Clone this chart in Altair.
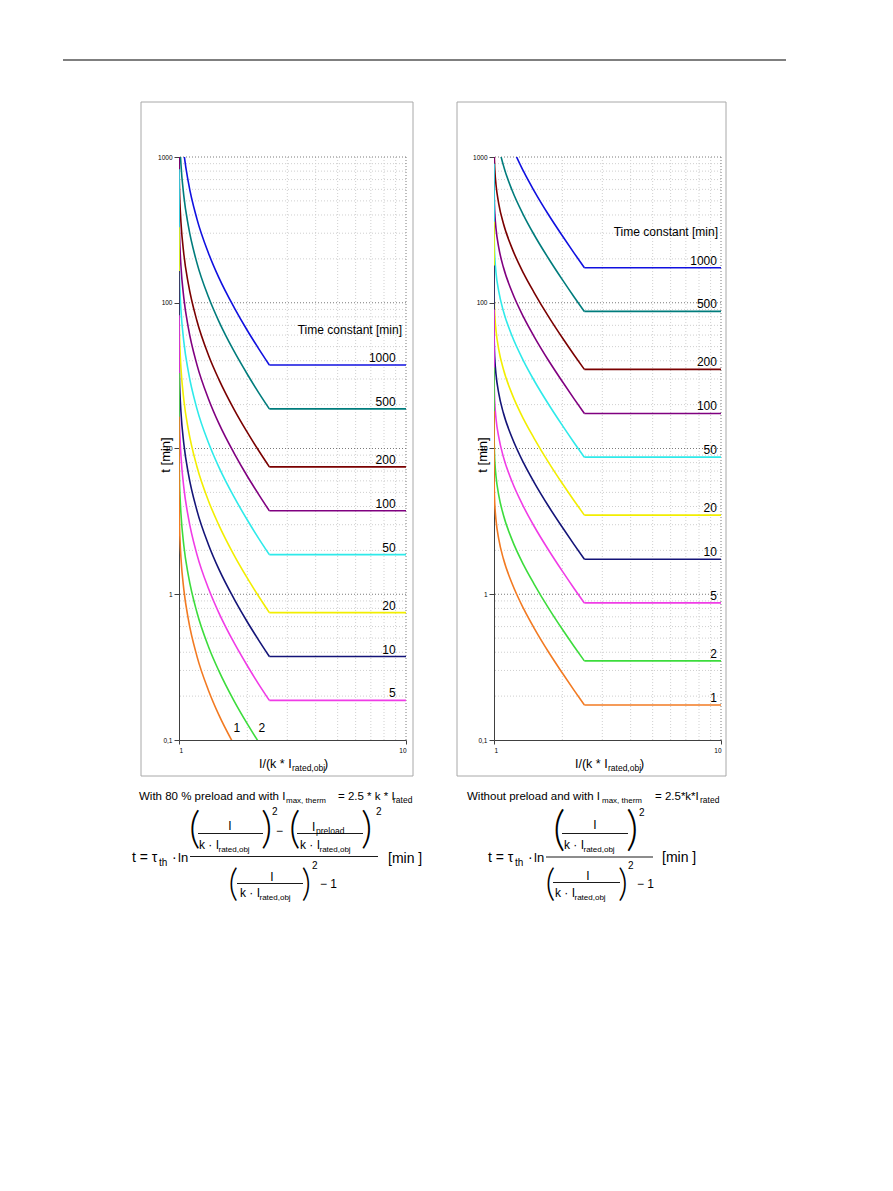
import altair as alt
import pandas as pd

FONT = "Liberation Sans"
PAREN_FONT = "Lato"

# ---------------- data ----------------
TAUS = [1, 2, 5, 10, 20, 50, 100, 200, 500, 1000]
TAU_COLORS = ["#F27A22", "#3CDC3C", "#F03CE6", "#141478", "#F2EE00",
              "#2EEAEA", "#800080", "#7A0000", "#007C7C", "#1010E0"]

X_CURVE = [1.001, 1.005, 1.01, 1.02, 1.05, 1.1, 1.2, 1.35, 1.5, 1.75, 2.0, 2.25, 2.5]
X_KNEE = 2.5
X_END = 10.0

# left panel: with 80 % preload
left_tau1 = [4.61, 3.04, 2.39, 1.78, 1.08, 0.669, 0.375, 0.218, 0.148, 0.0926, 0.0645, 0.0481, 0.0374]
left_tau2 = [9.23, 6.08, 4.79, 3.57, 2.16, 1.34, 0.749, 0.435, 0.297, 0.185, 0.129, 0.0961, 0.0748]
left_tau5 = [23.1, 15.2, 12.0, 8.92, 5.41, 3.35, 1.87, 1.09, 0.742, 0.463, 0.323, 0.240, 0.187]
left_tau10 = [46.1, 30.4, 23.9, 17.8, 10.8, 6.69, 3.75, 2.18, 1.48, 0.926, 0.645, 0.481, 0.374]
left_tau20 = [92.3, 60.8, 47.9, 35.7, 21.6, 13.4, 7.49, 4.35, 2.97, 1.85, 1.29, 0.961, 0.748]
left_tau50 = [231, 152, 120, 89.2, 54.1, 33.5, 18.7, 10.9, 7.42, 4.63, 3.23, 2.40, 1.87]
left_tau100 = [461, 304, 239, 178, 108, 66.9, 37.5, 21.8, 14.8, 9.26, 6.45, 4.81, 3.74]
left_tau200 = [923, 608, 479, 357, 216, 134, 74.9, 43.5, 29.7, 18.5, 12.9, 9.61, 7.48]
left_tau500 = [2307, 1521, 1197, 892, 541, 335, 187, 109, 74.2, 46.3, 32.3, 24.0, 18.7]
left_tau1000 = [4615, 3042, 2393, 1783, 1082, 669, 375, 218, 148, 92.6, 64.5, 48.1, 37.4]
# top of each curve's rise along the left axis (x = 1)
left_axis_start = [16.5, 33, 82, 165, 330, 825, 1650, 3300, 8250, 16500]

# right panel: without preload
right_tau1 = [6.22, 4.61, 3.93, 3.25, 2.38, 1.75, 1.19, 0.796, 0.588, 0.395, 0.288, 0.220, 0.174]
right_tau2 = [12.4, 9.23, 7.85, 6.50, 4.75, 3.50, 2.37, 1.59, 1.18, 0.791, 0.575, 0.440, 0.349]
right_tau5 = [31.1, 23.1, 19.6, 16.2, 11.9, 8.76, 5.93, 3.98, 2.94, 1.98, 1.44, 1.10, 0.872]
right_tau10 = [62.2, 46.1, 39.3, 32.5, 23.8, 17.5, 11.9, 7.96, 5.88, 3.95, 2.88, 2.20, 1.74]
right_tau20 = [124, 92.3, 78.5, 65.0, 47.5, 35.0, 23.7, 15.9, 11.8, 7.91, 5.75, 4.40, 3.49]
right_tau50 = [311, 231, 196, 162, 119, 87.6, 59.3, 39.8, 29.4, 19.8, 14.4, 11.0, 8.72]
right_tau100 = [622, 461, 393, 325, 238, 175, 119, 79.6, 58.8, 39.5, 28.8, 22.0, 17.4]
right_tau200 = [1243, 923, 785, 650, 475, 350, 237, 159, 118, 79.1, 57.5, 44.0, 34.9]
right_tau500 = [3108, 2306, 1964, 1624, 1188, 876, 593, 398, 294, 198, 144, 110, 87.2]
right_tau1000 = [6216, 4613, 3927, 3249, 2376, 1751, 1186, 796, 588, 395, 288, 220, 174]
right_axis_start = [18, 36, 90, 180, 360, 900, 1800, 3600, 9000, 18000]

LEFT_CURVES = [left_tau1, left_tau2, left_tau5, left_tau10, left_tau20,
               left_tau50, left_tau100, left_tau200, left_tau500, left_tau1000]
RIGHT_CURVES = [right_tau1, right_tau2, right_tau5, right_tau10, right_tau20,
                right_tau50, right_tau100, right_tau200, right_tau500, right_tau1000]

X_MINOR = [2, 3, 4, 5, 6, 7, 8, 9]
X_MAJOR = [10]
Y_MINOR = [0.2, 0.3, 0.4, 0.5, 0.6, 0.7, 0.8, 0.9, 2, 3, 4, 5, 6, 7, 8, 9,
           20, 30, 40, 50, 60, 70, 80, 90, 200, 300, 400, 500, 600, 700, 800, 900]
Y_MAJOR = [1, 10, 100, 1000]
Y_TICKS = [0.1, 1, 10, 100, 1000]
X_TICKS = [1, 10]

# ---------------- layout ----------------
PW, PH = 227, 583
LEFT_OX, TOP_OY = 179, 157
SPACING = 88
RIGHT_OX = LEFT_OX + PW + SPACING

XS = alt.Scale(type="log", domain=[1, 10])
YS = alt.Scale(type="log", domain=[0.1, 1000])
XAX = alt.Axis(values=X_TICKS, title="", grid=False, labelFontSize=6.5, labelFont=FONT,
               labelColor="#000000", domainColor="#404040", tickColor="#404040",
               tickSize=4, labelPadding=3, labelExpr="format(datum.value, 'd')")
YAX = alt.Axis(values=Y_TICKS, title="", grid=False, labelFontSize=6.5, labelFont=FONT,
               labelColor="#000000", domainColor="#404040", tickColor="#404040",
               tickSize=5, labelPadding=2,
               labelExpr="datum.value < 0.5 ? '0,1' : format(datum.value, 'd')")


def build_df(curves, starts):
    rows = []
    for tau, vals, s in zip(TAUS, curves, starts):
        rows.append(dict(tau=tau, seg="c", x=1.0, y=s, o=0))
        for i, (xv, yv) in enumerate(zip(X_CURVE, vals)):
            rows.append(dict(tau=tau, seg="c", x=xv, y=yv, o=i + 1))
        rows.append(dict(tau=tau, seg="f", x=X_KNEE, y=vals[-1], o=0))
        rows.append(dict(tau=tau, seg="f", x=X_END, y=vals[-1], o=1))
    return pd.DataFrame(rows)


def txt(s, px, py, ox, size, align="left", baseline="alphabetic", angle=0,
        font=FONT, weight=400):
    return alt.Chart(pd.DataFrame({"s": [s]})).mark_text(
        align=align, baseline=baseline, fontSize=size, font=font, angle=angle,
        fontWeight=weight, color="#000000"
    ).encode(x=alt.value(px - ox), y=alt.value(py - TOP_OY), text="s:N")


def paren(s, px, py, ox, size):
    return txt(s, px, py, ox, size, font=PAREN_FONT, weight=300)


def hline(x1, x2, y, ox, color="#000000", w=0.9):
    return alt.Chart(pd.DataFrame({"a": [0]})).mark_rule(color=color, strokeWidth=w).encode(
        x=alt.value(x1 - ox), x2=alt.value(x2 - ox), y=alt.value(y - TOP_OY))


def frame(x1, y1, x2, y2, ox):
    return alt.Chart(pd.DataFrame({"a": [0]})).mark_rect(
        fillOpacity=0, stroke="#A8A8A8", strokeWidth=1
    ).encode(x=alt.value(x1 - ox), x2=alt.value(x2 - ox),
             y=alt.value(y1 - TOP_OY), y2=alt.value(y2 - TOP_OY))


def grid_layers():
    gx_minor = alt.Chart(pd.DataFrame({"v": X_MINOR})).mark_rule(
        color="#CFCFCF", strokeWidth=1, strokeDash=[1, 2]).encode(
        x=alt.X("v:Q", scale=XS, axis=XAX))
    gy_minor = alt.Chart(pd.DataFrame({"v": Y_MINOR})).mark_rule(
        color="#CFCFCF", strokeWidth=1, strokeDash=[1, 2]).encode(
        y=alt.Y("v:Q", scale=YS, axis=YAX))
    gx_major = alt.Chart(pd.DataFrame({"v": X_MAJOR})).mark_rule(
        color="#7A7A7A", strokeWidth=1, strokeDash=[1, 2]).encode(
        x=alt.X("v:Q", scale=XS, axis=XAX))
    gy_major = alt.Chart(pd.DataFrame({"v": Y_MAJOR})).mark_rule(
        color="#7A7A7A", strokeWidth=1, strokeDash=[1, 2]).encode(
        y=alt.Y("v:Q", scale=YS, axis=YAX))
    return [gx_minor, gy_minor, gx_major, gy_major]


def curve_layers(df):
    layers = []
    for tau, col in reversed(list(zip(TAUS, TAU_COLORS))):
        layers.append(alt.Chart(df[df.tau == tau]).mark_line(
            color=col, strokeWidth=1.6, interpolate="monotone", clip=True).encode(
            x=alt.X("x:Q", scale=XS, axis=XAX),
            y=alt.Y("y:Q", scale=YS, axis=YAX),
            detail="seg:N", order="o:Q"))
    return layers


def label_layer(names, xs, ys, align):
    d = pd.DataFrame({"n": names, "x": xs, "y": ys})
    return alt.Chart(d).mark_text(
        align=align, baseline="alphabetic", dy=-3, fontSize=12, font=FONT, color="#000000").encode(
        x=alt.X("x:Q", scale=XS, axis=XAX), y=alt.Y("y:Q", scale=YS, axis=YAX), text="n:N")


# ---------------- left panel ----------------
ox = LEFT_OX
left_df = build_df(LEFT_CURVES, left_axis_start)
left_layers = [
    alt.Chart(pd.DataFrame({"a": [0]})).mark_rect(opacity=0).encode(
        x=alt.value(-LEFT_OX), x2=alt.value(893 - LEFT_OX),
        y=alt.value(-TOP_OY), y2=alt.value(1191 - TOP_OY)),
    hline(63, 786, 60, ox, color="#000000", w=1.2),
    frame(141, 102, 413, 776, ox),
]
left_layers += grid_layers()
left_layers += curve_layers(left_df)
lab_taus = TAUS[2:]
left_layers.append(label_layer([str(t) for t in lab_taus], [9.0] * len(lab_taus),
                               [c[-1] for c in LEFT_CURVES[2:]], "right"))
left_layers.append(label_layer(["1", "2"], [1.8, 2.32], [0.108, 0.108], "center"))
left_layers += [
    txt("Time constant [min]", 402, 334, ox, 12, align="right"),
    txt("t [min]", 166, 455, ox, 13, align="center", baseline="middle", angle=270),
    txt("I/(k * I", 259, 768, ox, 12.5),
    txt("rated,obj", 292, 771, ox, 8.5),
    txt(")", 324, 768, ox, 12.5),
    # caption
    txt("With 80 % preload and with I", 139, 800, ox, 11.5),
    txt("max, therm", 286, 803, ox, 8),
    txt("= 2.5 * k * I", 338, 800, ox, 11.5),
    txt("rated", 393, 803, ox, 8.5),
    # formula
    txt("t = τ", 132, 862, ox, 14),
    txt("th", 159, 866, ox, 10),
    txt("·", 172, 862, ox, 14),
    txt("ln", 178, 862, ox, 13),
    hline(190, 378, 856.5, ox),
    paren("(", 189, 843, ox, 44),
    paren(")", 261, 843, ox, 44),
    txt("I", 230, 830, ox, 12, align="center"),
    hline(198, 263, 833.5, ox),
    txt("k · I", 199, 849, ox, 12),
    txt("rated,obj", 218.5, 852, ox, 8),
    txt("2", 272, 815, ox, 10),
    txt("−", 276, 835, ox, 12),
    paren("(", 289, 843, ox, 44),
    paren(")", 361, 843, ox, 44),
    txt("I", 312, 831, ox, 12),
    txt("preload", 316, 834, ox, 8.5),
    hline(297, 363, 833.5, ox),
    txt("k · I", 300, 849, ox, 12),
    txt("rated,obj", 319.5, 852, ox, 8),
    txt("2", 376, 815, ox, 10),
    paren("(", 228.5, 896, ox, 37),
    paren(")", 301.5, 896, ox, 37),
    txt("I", 272, 881, ox, 12, align="center"),
    hline(237, 303, 883.5, ox),
    txt("k · I", 240, 897, ox, 12),
    txt("rated,obj", 259.5, 900, ox, 8),
    txt("2", 312, 869, ox, 10),
    txt("− 1", 320, 888, ox, 12),
    txt("[min ]", 388, 863, ox, 14),
]
left = alt.layer(*left_layers).properties(width=PW, height=PH)

# ---------------- right panel ----------------
ox = RIGHT_OX
right_df = build_df(RIGHT_CURVES, right_axis_start)
right_layers = [frame(457, 102, 726, 776, ox)]
right_layers += grid_layers()
right_layers += curve_layers(right_df)
right_layers.append(label_layer([str(t) for t in TAUS], [9.6] * len(TAUS),
                                [c[-1] for c in RIGHT_CURVES], "right"))
right_layers += [
    txt("Time constant [min]", 718, 236, ox, 12, align="right"),
    txt("t [min]", 483, 455, ox, 13, align="center", baseline="middle", angle=270),
    txt("I/(k * I", 575, 768, ox, 12.5),
    txt("rated,obj", 608, 771, ox, 8.5),
    txt(")", 640, 768, ox, 12.5),
    # caption
    txt("Without preload and with I", 467, 800, ox, 11.5),
    txt("max, therm", 602, 803, ox, 8),
    txt("= 2.5*k*I", 655, 800, ox, 11.5),
    txt("rated", 700, 803, ox, 8.5),
    # formula
    txt("t = τ", 488, 862, ox, 14),
    txt("th", 515, 866, ox, 10),
    txt("·", 528, 862, ox, 14),
    txt("ln", 534, 862, ox, 13),
    hline(546, 653, 857, ox),
    paren("(", 553, 845, ox, 48),
    paren(")", 626, 845, ox, 48),
    txt("I", 595, 829, ox, 12, align="center"),
    hline(562, 628, 833.5, ox),
    txt("k · I", 564, 849, ox, 12),
    txt("rated,obj", 583.5, 852, ox, 8),
    txt("2", 639, 816, ox, 10),
    paren("(", 545.5, 896, ox, 38),
    paren(")", 618, 896, ox, 38),
    txt("I", 588, 880, ox, 12, align="center"),
    hline(553, 620, 882.5, ox),
    txt("k · I", 555, 897, ox, 12),
    txt("rated,obj", 574.5, 900, ox, 8),
    txt("2", 628, 869, ox, 10),
    txt("− 1", 637, 888, ox, 12),
    txt("[min ]", 662, 862, ox, 14),
]
right = alt.layer(*right_layers).properties(width=PW, height=PH)

chart = alt.hconcat(left, right, spacing=SPACING, bounds="flush").properties(
    padding=0, background="#FFFFFF"
).configure_view(strokeWidth=0)

chart.save("out.html", embed_options={"renderer": "svg", "actions": False})
